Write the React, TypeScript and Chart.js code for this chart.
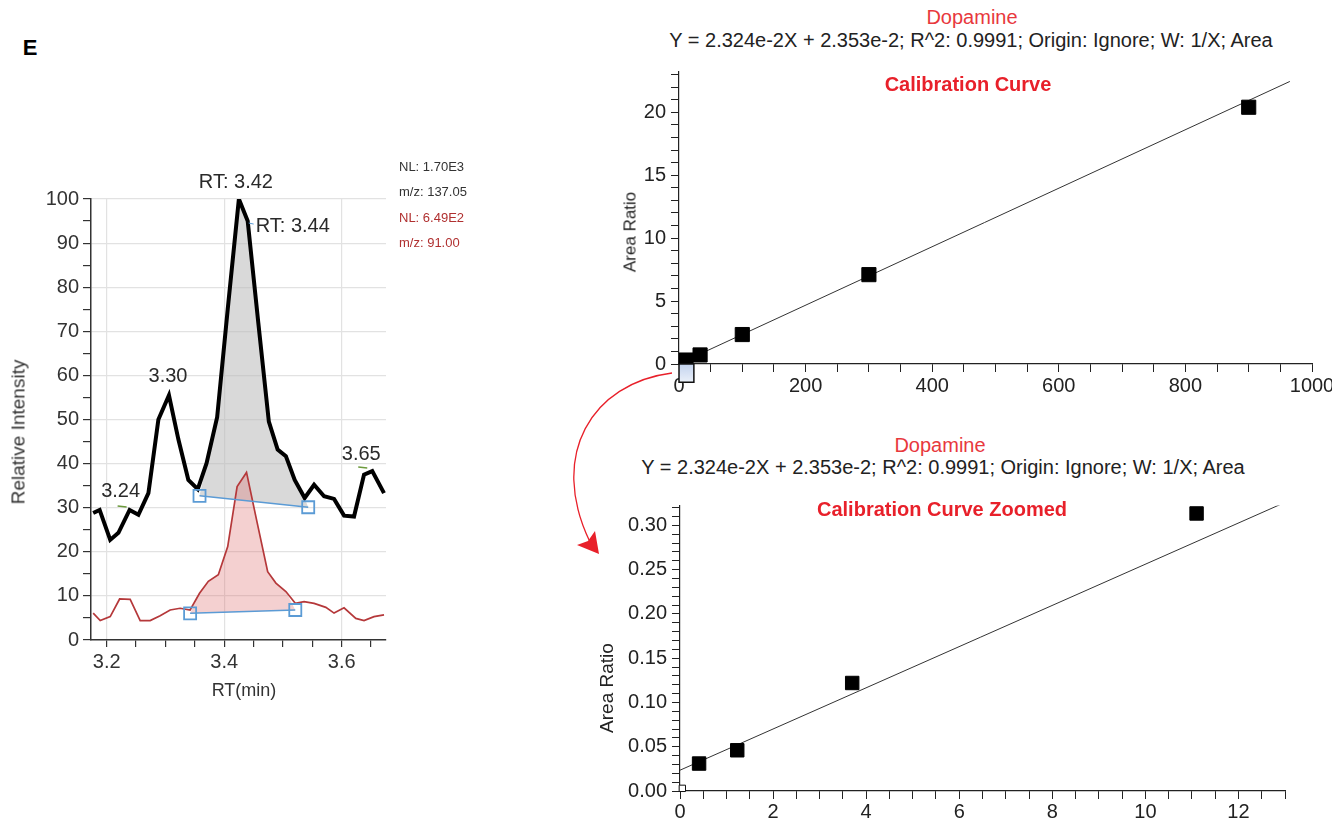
import React, { useEffect, useRef } from 'react';
import { Chart, registerables } from 'chart.js';
Chart.register(...registerables);

const FONT = "'Liberation Sans', Arial, Helvetica, sans-serif";

// ---------- Chromatogram (panel E, left) ----------
const rtBlack = [3.177, 3.188, 3.206, 3.220, 3.239, 3.254, 3.271, 3.288, 3.306, 3.322, 3.339, 3.355, 3.370, 3.388, 3.406, 3.425, 3.440, 3.458, 3.476, 3.491, 3.505, 3.520, 3.537, 3.553, 3.570, 3.587, 3.604, 3.621, 3.638, 3.652, 3.672];
const intBlack = [28.8, 29.5, 22.7, 24.3, 29.5, 28.4, 33.3, 50.0, 55.5, 45.5, 36.3, 34.2, 40.1, 50.5, 75.0, 100, 95, 72, 49.5, 43.2, 41.7, 36.3, 32.2, 35.2, 32.6, 32.0, 28.2, 28.0, 37.5, 38.3, 33.3];
const rtRed = [3.177, 3.189, 3.206, 3.222, 3.240, 3.257, 3.274, 3.291, 3.308, 3.325, 3.342, 3.358, 3.373, 3.390, 3.406, 3.422, 3.438, 3.455, 3.474, 3.488, 3.505, 3.521, 3.536, 3.553, 3.573, 3.587, 3.604, 3.624, 3.638, 3.655, 3.672];
const intRed = [6.1, 4.4, 5.3, 9.3, 9.2, 4.4, 4.4, 5.5, 6.8, 7.2, 6.8, 10.6, 13.3, 14.8, 21.2, 34.8, 38.0, 27.3, 15.5, 12.9, 11.0, 8.3, 8.7, 8.3, 7.4, 6.1, 7.3, 4.9, 4.4, 5.3, 5.7];
const baseBlackRT = [3.358, 3.543];
const baseBlackInt = [32.7, 30.1];
const baseRedRT = [3.342, 3.521];
const baseRedInt = [6.05, 6.8];
const peakLabels = ['RT: 3.42', 'RT: 3.44', '3.30', '3.24', '3.65'];
const peakLabelRT = [3.425, 3.440, 3.306, 3.239, 3.652];
const peakLabelInt = [100, 95, 55.5, 29.5, 38.3];
const xTicksChrom = [3.2, 3.4, 3.6];

// ---------- Calibration curves (right) ----------
const calConc = [0.41, 1.23, 3.7, 11.1, 33.3, 100, 300, 900];
const calRatio = [0.031, 0.046, 0.122, 0.3135, 0.72, 2.34, 7.1, 20.4];
const fitLineX = [0, 965];
const fitLineY = [0.024, 22.45];
const zoomFitX = [0, 13];
const zoomFitY = [0.0235, 0.326];
const blankConc = [0.05];
const blankRatio = [0.003];
const zoomBoxX = [0, 23.5];
const zoomBoxY = [-1.45, 0];

const pts = (xs: number[], ys: number[]) => xs.map((x, i) => ({ x, y: ys[i] }));

const fit = (size: number) => (s: any) => {
  if (s.isHorizontal()) s.height = size; else s.width = size;
  s.paddingLeft = 0; s.paddingRight = 0; s.paddingTop = 0; s.paddingBottom = 0;
};

const near = (a: number, b: number) => Math.abs(a - b) < 1e-6;

function drawPeakFill(ctx: CanvasRenderingContext2D, xs: any, ys: any, tx: number[], ty: number[], bx: number[], by: number[], color: string) {
  ctx.save();
  ctx.beginPath();
  ctx.moveTo(xs.getPixelForValue(bx[0]), ys.getPixelForValue(by[0]));
  tx.forEach((v, i) => {
    if (v > bx[0] && v < bx[1]) ctx.lineTo(xs.getPixelForValue(v), ys.getPixelForValue(ty[i]));
  });
  ctx.lineTo(xs.getPixelForValue(bx[1]), ys.getPixelForValue(by[1]));
  ctx.closePath();
  ctx.fillStyle = color;
  ctx.fill();
  ctx.restore();
}

const labelOffsets = [[-3, -17, 'center'], [8, 5, 'left'], [-1, -19, 'center'], [-9, -18, 'center'], [-11, -17, 'center']] as const;

const chromPlugin = {
  id: 'chromDeco',
  beforeDatasetsDraw(chart: any) {
    const { ctx, scales: { x, y } } = chart;
    drawPeakFill(ctx, x, y, rtBlack, intBlack, baseBlackRT, baseBlackInt, 'rgba(185,185,185,0.55)');
    drawPeakFill(ctx, x, y, rtRed, intRed, baseRedRT, baseRedInt, 'rgba(220,110,110,0.32)');
  },
  afterDatasetsDraw(chart: any) {
    const { ctx, scales: { x, y } } = chart;
    ctx.save();
    ctx.font = `20px ${FONT}`;
    ctx.fillStyle = '#2a2a2a';
    ctx.textBaseline = 'middle';
    peakLabels.forEach((t, i) => {
      const px = x.getPixelForValue(peakLabelRT[i]);
      const py = y.getPixelForValue(peakLabelInt[i]);
      const [dx, dy, al] = labelOffsets[i];
      ctx.textAlign = al;
      ctx.fillText(t, px + dx, py + dy);
      if (i === 1) {
        ctx.strokeStyle = '#5b9bd5'; ctx.lineWidth = 1;
        ctx.beginPath(); ctx.moveTo(px + 1, py + 2); ctx.lineTo(px + 6, py + 3); ctx.stroke();
      }
      if (i === 3 || i === 4) {
        ctx.strokeStyle = '#6c9a3c'; ctx.lineWidth = 1.5;
        ctx.beginPath(); ctx.moveTo(px + dx - 3, py - 4); ctx.lineTo(px + dx + 6, py - 3); ctx.stroke();
      }
    });
    ctx.restore();
  },
};

const zoomBoxPlugin = {
  id: 'zoomBox',
  afterDatasetsDraw(chart: any) {
    const { ctx, scales: { x, y } } = chart;
    const l = x.getPixelForValue(zoomBoxX[0]);
    const r = x.getPixelForValue(zoomBoxX[1]);
    const t = y.getPixelForValue(zoomBoxY[1]);
    const b = y.getPixelForValue(zoomBoxY[0]);
    ctx.save();
    const g = ctx.createLinearGradient(0, t, 0, b);
    g.addColorStop(0, '#c3d3ee');
    g.addColorStop(1, '#eaf0f9');
    ctx.fillStyle = g;
    ctx.fillRect(l, t, r - l, b - t);
    ctx.strokeStyle = '#111';
    ctx.lineWidth = 1.5;
    ctx.strokeRect(l, t, r - l, b - t);
    ctx.restore();
  },
};

const common = {
  responsive: false,
  animation: false as const,
  devicePixelRatio: 1,
  events: [] as any[],
  plugins: { legend: { display: false }, tooltip: { enabled: false }, title: { display: false } },
};

function chromConfig(): any {
  return {
    type: 'line',
    data: {
      datasets: [
        { label: 'Base 137', data: pts(baseBlackRT, baseBlackInt), borderColor: '#5b9bd5', borderWidth: 1.4, pointStyle: 'rect', pointRadius: 8.5, pointBorderColor: '#5b9bd5', pointBackgroundColor: 'rgba(255,255,255,0)', pointBorderWidth: 1.8, order: 1, clip: false },
        { label: 'Base 91', data: pts(baseRedRT, baseRedInt), borderColor: '#5b9bd5', borderWidth: 1.4, pointStyle: 'rect', pointRadius: 8.5, pointBorderColor: '#5b9bd5', pointBackgroundColor: 'rgba(255,255,255,0)', pointBorderWidth: 1.8, order: 2, clip: false },
        { label: 'm/z 137.05', data: pts(rtBlack, intBlack), borderColor: '#000', borderWidth: 4, pointRadius: 0, tension: 0, order: 3 },
        { label: 'm/z 91.00', data: pts(rtRed, intRed), borderColor: '#b5383a', borderWidth: 1.7, pointRadius: 0, tension: 0, order: 4 },
      ],
    },
    options: {
      ...common,
      layout: { padding: { top: 49, right: 14, left: 0, bottom: 0 } },
      scales: {
        x: {
          type: 'linear', min: 3.1733, max: 3.6754,
          afterFit: fit(70),
          border: { display: true, color: '#333', width: 1.5 },
          grid: {
            color: (c: any) => (c.tick && xTicksChrom.some(v => near(v, c.tick.value)) ? '#e2e2e2' : 'rgba(0,0,0,0)'),
            tickColor: '#333', tickLength: 7, lineWidth: 1.2,
          },
          ticks: {
            stepSize: 0.05, autoSkip: false, maxRotation: 0, includeBounds: false, padding: 3,
            color: '#333', font: { family: FONT, size: 20 },
            callback: (v: number) => (xTicksChrom.some(t => near(t, v)) ? v.toFixed(1) : ''),
          },
        },
        y: {
          min: 0, max: 100,
          afterFit: fit(91),
          border: { display: true, color: '#333', width: 1.5 },
          grid: {
            color: (c: any) => (c.tick && c.tick.value % 10 === 0 && c.tick.value > 0 ? '#e2e2e2' : 'rgba(0,0,0,0)'),
            tickColor: '#333', tickLength: 8, lineWidth: 1.2,
          },
          ticks: {
            stepSize: 5, autoSkip: false, includeBounds: false, padding: 4,
            color: '#333', font: { family: FONT, size: 20 },
            callback: (v: number) => (v % 10 === 0 ? String(v) : ''),
          },
        },
      },
    },
    plugins: [chromPlugin],
  };
}

const calAxis = (o: any) => ({
  border: { display: true, color: '#222', width: 1.2 },
  grid: { drawOnChartArea: false, drawTicks: true, tickColor: '#222', tickLength: 8 },
  ...o,
});

function calMainConfig(): any {
  return {
    type: 'line',
    data: {
      datasets: [
        { label: 'Standards', data: pts(calConc, calRatio), showLine: false, pointStyle: 'rect', pointRadius: 10, pointBackgroundColor: '#000', pointBorderColor: '#000', pointBorderWidth: 1 },
        { label: 'Fit', data: pts(fitLineX, fitLineY), borderColor: '#333', borderWidth: 1, pointRadius: 0 },
      ],
    },
    options: {
      ...common,
      layout: { padding: { top: 12, right: 20, left: 0, bottom: 0 } },
      scales: {
        x: calAxis({
          type: 'linear', min: 0, max: 1000, afterFit: fit(41),
          ticks: { stepSize: 50, autoSkip: false, maxRotation: 0, includeBounds: false, padding: 2, color: '#222', font: { family: FONT, size: 20 }, callback: (v: number) => (v % 200 === 0 ? String(v) : '') },
        }),
        y: calAxis({
          min: 0, max: 23.2, afterFit: fit(60),
          ticks: { stepSize: 1, autoSkip: false, includeBounds: false, padding: 5, color: '#222', font: { family: FONT, size: 20 }, callback: (v: number) => (v % 5 === 0 ? String(v) : '') },
        }),
      },
    },
    plugins: [zoomBoxPlugin],
  };
}

function calZoomConfig(): any {
  return {
    type: 'line',
    data: {
      datasets: [
        { label: 'Standards', data: pts(calConc, calRatio), showLine: false, pointStyle: 'rect', pointRadius: 9.5, pointBackgroundColor: '#000', pointBorderColor: '#000', pointBorderWidth: 1 },
        { label: 'Blank', data: pts(blankConc, blankRatio), showLine: false, pointStyle: 'rect', pointRadius: 4.5, pointBackgroundColor: '#fff', pointBorderColor: '#111', pointBorderWidth: 1, clip: false },
        { label: 'Fit', data: pts(zoomFitX, zoomFitY), borderColor: '#333', borderWidth: 1, pointRadius: 0 },
      ],
    },
    options: {
      ...common,
      layout: { padding: { top: 10, right: 47, left: 0, bottom: 0 } },
      scales: {
        x: calAxis({
          type: 'linear', min: 0, max: 13, afterFit: fit(34),
          ticks: {
            stepSize: 0.5, autoSkip: false, maxRotation: 0, includeBounds: false, padding: 1, color: '#222', font: { family: FONT, size: 20 },
            callback: (v: number) => (near(v, Math.round(v)) && Math.round(v) % 2 === 0 ? String(Math.round(v)) : ''),
          },
        }),
        y: calAxis({
          min: 0, max: 0.3225, afterFit: fit(91),
          ticks: {
            stepSize: 0.01, autoSkip: false, includeBounds: false, padding: 5, color: '#222', font: { family: FONT, size: 20 },
            callback: (v: number) => { const r = Math.round(v * 100); return r % 5 === 0 ? (r / 100).toFixed(2) : ''; },
          },
        }),
      },
    },
  };
}

type LP = { x: number; y: number; text: string; size: number; color?: string; bold?: boolean; rot?: number; align?: 'left' | 'center' };
function Label({ x, y, text, size, color = '#222', bold = false, rot = 0, align = 'center' }: LP) {
  const tx = align === 'center' ? '-50%' : '0';
  return (
    <div style={{ position: 'absolute', left: x, top: y, transform: `translate(${tx},-50%) rotate(${rot}deg)`, fontSize: size, lineHeight: 1, fontWeight: bold ? 700 : 400, color, whiteSpace: 'nowrap', fontFamily: FONT }}>
      {text}
    </div>
  );
}

const EQ = 'Y = 2.324e-2X + 2.353e-2; R^2: 0.9991; Origin: Ignore; W: 1/X; Area';

export default function App() {
  const c1 = useRef<HTMLCanvasElement>(null);
  const c2 = useRef<HTMLCanvasElement>(null);
  const c3 = useRef<HTMLCanvasElement>(null);

  useEffect(() => {
    const charts: Chart[] = [];
    if (c1.current) charts.push(new Chart(c1.current, chromConfig()));
    if (c2.current) charts.push(new Chart(c2.current, calMainConfig()));
    if (c3.current) charts.push(new Chart(c3.current, calZoomConfig()));
    return () => charts.forEach(c => c.destroy());
  }, []);

  return (
    <div style={{ position: 'absolute', left: 0, top: 0, width: 1332, height: 825, background: '#fff', overflow: 'hidden', fontFamily: FONT }}>
      <canvas ref={c1} width={400} height={560} style={{ position: 'absolute', left: 0, top: 150, width: 400, height: 560 }} />
      <canvas ref={c2} width={713} height={345} style={{ position: 'absolute', left: 619, top: 60, width: 713, height: 345 }} />
      <canvas ref={c3} width={743} height={330} style={{ position: 'absolute', left: 589, top: 495, width: 743, height: 330 }} />

      <Label x={30} y={48} text="E" size={22} bold color="#000" />
      <Label x={399} y={166} text="NL: 1.70E3" size={13} color="#333" align="left" />
      <Label x={399} y={191} text="m/z: 137.05" size={13} color="#333" align="left" />
      <Label x={399} y={217} text="NL: 6.49E2" size={13} color="#b03030" align="left" />
      <Label x={399} y={242} text="m/z: 91.00" size={13} color="#b03030" align="left" />
      <Label x={18} y={432} text="Relative Intensity" size={19} color="#333" rot={-90} />
      <Label x={244} y={690} text="RT(min)" size={18} color="#333" />

      <Label x={972} y={17} text="Dopamine" size={20} color="#e8383d" />
      <Label x={971} y={40} text={EQ} size={20} color="#222" />
      <Label x={968} y={84} text="Calibration Curve" size={20} bold color="#e8202a" />
      <Label x={630} y={232} text="Area Ratio" size={17} color="#222" rot={-90} />

      <Label x={940} y={445} text="Dopamine" size={20} color="#e8383d" />
      <Label x={943} y={467} text={EQ} size={20} color="#222" />
      <Label x={942} y={509} text="Calibration Curve Zoomed" size={20} bold color="#e8202a" />
      <Label x={606} y={688} text="Area Ratio" size={19} color="#222" rot={-90} />

      <svg width={1332} height={825} style={{ position: 'absolute', left: 0, top: 0, pointerEvents: 'none' }}>
        <path d="M 672 373 C 592 383, 548 455, 590 542" fill="none" stroke="#e8202a" strokeWidth={1.3} />
        <polygon points="599,554 577,545 588,541 595,531" fill="#e8202a" />
      </svg>
    </div>
  );
}
